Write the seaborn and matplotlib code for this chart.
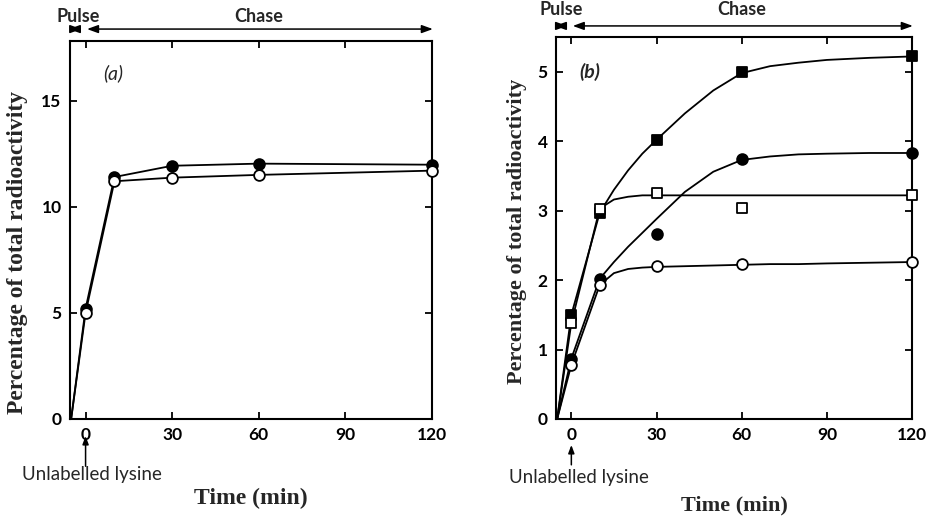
import matplotlib
matplotlib.use("Agg")
import matplotlib.pyplot as plt
import seaborn as sns

# sampling times (min); the pulse starts at -5
time = [0, 10, 30, 60, 120]

# panel (a) measured points
a_filled = [5.2, 11.4, 11.93, 12.03, 11.98]
a_open = [5.0, 11.2, 11.37, 11.5, 11.7]

# panel (b) measured points
b_filled_sq = [1.50, 2.97, 4.02, 5.00, 5.22]
b_open_sq = [1.38, 3.03, 3.26, 3.04, 3.23]
b_filled_ci = [0.87, 2.02, 2.67, 3.75, 3.83]
b_open_ci = [0.78, 1.93, 2.20, 2.23, 2.26]

# panel (b) hand-drawn curves
curve_t = [-5, 0, 10, 15, 20, 25, 30, 40, 50, 60, 70, 80, 90, 105, 120]
curve_filled_sq = [0, 1.5, 2.97, 3.3, 3.58, 3.82, 4.02, 4.4, 4.73, 4.98, 5.08, 5.13, 5.17, 5.2, 5.22]
curve_open_sq = [0, 1.38, 3.03, 3.16, 3.2, 3.22, 3.22, 3.22, 3.22, 3.22, 3.22, 3.22, 3.22, 3.22, 3.22]
curve_filled_ci = [0, 0.87, 2.02, 2.26, 2.48, 2.68, 2.88, 3.27, 3.56, 3.73, 3.78, 3.81, 3.82, 3.83, 3.83]
curve_open_ci = [0, 0.78, 1.93, 2.1, 2.16, 2.18, 2.19, 2.2, 2.21, 2.22, 2.23, 2.23, 2.24, 2.25, 2.26]

x_ticks = [0, 30, 60, 90, 120]
a_yticks = [0, 5, 10, 15]
b_yticks = [0, 1, 2, 3, 4, 5]

sns.set_theme(style="ticks")
plt.rcParams['font.family'] = ['Lato', 'DejaVu Sans']

fig = plt.figure(figsize=(9.27, 5.19), dpi=100)
ax_a = fig.add_axes([0.0755, 0.1927, 0.3905, 0.728])
ax_b = fig.add_axes([0.5998, 0.1927, 0.384, 0.736])

LW = 1.3


def markers(ax, x, y, marker, filled, size=60):
    sns.scatterplot(x=x, y=y, ax=ax, marker=marker, s=size,
                    color='black' if filled else 'white',
                    edgecolor='black', linewidth=1.3, zorder=5, legend=False,
                    clip_on=False)


def style_axes(ax, ylim, yticks, ylab_x, ylab_y, xlab_y, lab_size):
    ax.set_xlim(-5.4, 120)
    ax.set_ylim(*ylim)
    ax.set_xticks(x_ticks)
    ax.set_yticks(yticks)
    ax.tick_params(direction='in', top=True, right=True, length=5, width=1.3,
                   labelsize=12.5, pad=6, colors='black')
    for lab in ax.get_xticklabels() + ax.get_yticklabels():
        lab.set_fontweight('bold')
    for sp in ax.spines.values():
        sp.set_linewidth(1.5)
        sp.set_color('black')
    serif = dict(family='Liberation Serif', fontweight='bold', fontsize=lab_size)
    ax.set_xlabel('Time (min)', **serif)
    ax.set_ylabel('Percentage of total radioactivity', **serif)
    ax.xaxis.set_label_coords(0.5, xlab_y)
    ax.yaxis.set_label_coords(ylab_x, ylab_y)


def pulse_chase(ax, y_arrow, y_text, pulse_x):
    tr = ax.get_xaxis_transform()
    head = dict(arrowstyle='<|-|>,head_length=0.55,head_width=0.2', lw=1.1, color='black',
                shrinkA=0, shrinkB=0)
    ax.annotate('', xy=(-1.5, y_arrow), xytext=(-5.8, y_arrow), xycoords=tr,
                textcoords=tr, arrowprops=head, annotation_clip=False)
    ax.annotate('', xy=(120.3, y_arrow), xytext=(0.5, y_arrow), xycoords=tr,
                textcoords=tr, arrowprops=head, annotation_clip=False)
    ax.text(pulse_x, y_text, 'Pulse', transform=tr, ha='center', va='center',
            fontsize=13, fontweight='bold')
    ax.text(60, y_text, 'Chase', transform=tr, ha='center', va='center',
            fontsize=13, fontweight='bold')


def lysine(ax, y_head, y_tail, tx, ty):
    tr = ax.get_xaxis_transform()
    ax.annotate('', xy=(0, y_head), xytext=(0, y_tail), xycoords=tr, textcoords=tr,
                arrowprops=dict(arrowstyle='-|>,head_length=0.4,head_width=0.15',
                                lw=1.1, color='black', shrinkA=0, shrinkB=0),
                annotation_clip=False)
    ax.text(tx, ty, 'Unlabelled lysine', transform=ax.transAxes, ha='left',
            va='center', fontsize=13.5)


# panel (a): straight segments through the points, from the pulse start
line_t = [-5] + time
sns.lineplot(x=line_t, y=[0] + a_filled, ax=ax_a, color='black', lw=LW, sort=False)
sns.lineplot(x=line_t, y=[0] + a_open, ax=ax_a, color='black', lw=LW, sort=False)
markers(ax_a, time, a_filled, 'o', True)
markers(ax_a, time, a_open, 'o', False)
style_axes(ax_a, (0, 17.8), a_yticks, -0.116, 0.44, -0.183, 17)
ax_a.text(0.12, 0.915, '(a)', transform=ax_a.transAxes, fontsize=14,
          fontstyle='italic', ha='center', va='center')
pulse_chase(ax_a, 1.032, 1.066, -2.5)
lysine(ax_a, -0.045, -0.125, -0.133, -0.146)

# panel (b): smooth curves plus measured points
for cv in (curve_filled_sq, curve_open_sq, curve_filled_ci, curve_open_ci):
    sns.lineplot(x=curve_t, y=cv, ax=ax_b, color='black', lw=LW, sort=False)
markers(ax_b, time, b_filled_sq, 's', True, 50)
markers(ax_b, time, b_open_sq, 's', False, 50)
markers(ax_b, time, b_filled_ci, 'o', True)
markers(ax_b, time, b_open_ci, 'o', False)
style_axes(ax_b, (0, 5.5), b_yticks, -0.081, 0.49, -0.199, 16)
ax_b.text(0.095, 0.908, '(b)', transform=ax_b.transAxes, fontsize=14,
          fontstyle='italic', fontweight='bold', ha='center', va='center')
pulse_chase(ax_b, 1.029, 1.072, -3.5)
lysine(ax_b, -0.068, -0.12, -0.132, -0.152)

fig.savefig('out.png', dpi=100, facecolor='white')
